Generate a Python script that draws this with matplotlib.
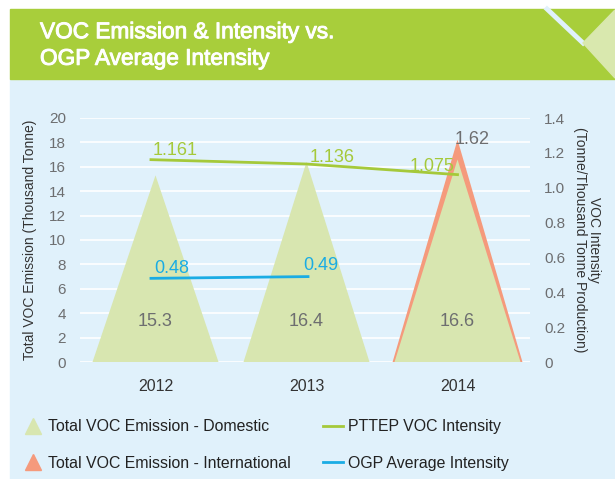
import matplotlib.pyplot as plt
import matplotlib.patheffects as pe
from matplotlib.patches import Rectangle, Polygon
from matplotlib.lines import Line2D

plt.rcParams["font.family"] = ["Liberation Sans", "DejaVu Sans"]

years = ["2012", "2013", "2014"]
domestic = [15.3, 16.4, 16.6]
international = [0, 0, 1.62]
pttep_intensity = [1.161, 1.136, 1.075]
ogp_intensity = [0.48, 0.49]

C_HEAD = "#A8CE3B"
C_BG = "#E0F1FB"
C_DOM = "#D8E6B0"
C_INT = "#F59A7C"
C_PTT = "#A5C93A"
C_OGP = "#1AACE4"
C_TXT = "#6D6E70"

fig = plt.figure(figsize=(6.15, 4.79), dpi=100)
W, H = 615, 479

def px(x, y):
    return x / W, 1 - y / H

# Hintergrund + Kopfzeile
fig.patches.append(Rectangle(px(10, 479), 605 / W, 400 / H, transform=fig.transFigure,
                             color=C_BG, zorder=-3))
fig.patches.append(Rectangle(px(10, 79), 605 / W, 70 / H, transform=fig.transFigure,
                             color=C_HEAD, zorder=-3))
fig.patches.append(Polygon([px(583, 43), px(615, 10), px(615, 78)], closed=True,
                           transform=fig.transFigure, color="#D9E8AE", zorder=-2))
fig.lines.append(Line2D([547 / W, 583 / W], [1 - 9 / H, 1 - 43 / H], transform=fig.transFigure,
                        color=C_BG, lw=3.5, zorder=-2))
fig.text(40 / W, 1 - 45 / H, "VOC Emission & Intensity vs.\nOGP Average Intensity",
         color="white", fontsize=16.3, va="center", ha="left", linespacing=1.2,
         path_effects=[pe.withStroke(linewidth=0.7, foreground="white")])

ax = fig.add_axes([80 / W, 1 - 362 / H, 450 / W, 244 / H])
ax.set_facecolor("none")
ax.set_xlim(-0.5, 2.48)
ax.set_ylim(0, 20)
ax.set_yticks(range(0, 21, 2))
ax.yaxis.grid(True, color="white", lw=1.2)
ax.set_axisbelow(True)
for s in ax.spines.values():
    s.set_visible(False)
ax.tick_params(length=0)
ax.tick_params(axis="y", labelsize=11, labelcolor=C_TXT, pad=10)
ax.set_xticks(range(len(years)))
ax.set_xticklabels(years, fontsize=11.5, color="#333333")
ax.tick_params(axis="x", pad=12)
ax.set_ylabel("Total VOC Emission (Thousand Tonne)", fontsize=10, color="#333333", labelpad=9)

hw = 0.43
for i in range(len(years)):
    tot = domestic[i] + international[i]
    if international[i] > 0:
        ax.fill([i - hw, i, i + hw], [0, tot, 0], color=C_INT, lw=0, zorder=2)
    ax.fill([i - hw * 0.97, i, i + hw * 0.97], [0, domestic[i], 0], color=C_DOM, lw=0, zorder=3)
    ax.text(i, 3.3, f"{domestic[i]}", ha="center", va="center", fontsize=13, color=C_TXT, zorder=5)
ax.text(1.98, tot, f"{international[2]}", ha="left", va="center", fontsize=13, color=C_TXT, zorder=5)

ax2 = ax.twinx()
ax2.set_ylim(0, 1.4)
ax2.set_yticks([0, 0.2, 0.4, 0.6, 0.8, 1.0, 1.2, 1.4])
ax2.set_yticklabels(["0", "0.2", "0.4", "0.6", "0.8", "1.0", "1.2", "1.4"])
for s in ax2.spines.values():
    s.set_visible(False)
ax2.tick_params(length=0, labelsize=11, labelcolor=C_TXT, pad=10)
ax2.set_ylabel("VOC Intensity\n(Tonne/Thousand Tonne Production)", fontsize=10, color="#333333",
               rotation=270, labelpad=26, linespacing=1.0)

xs = [-0.03, 1, 2]
ax2.plot(xs, pttep_intensity, color=C_PTT, lw=2, zorder=4)
ax2.plot([-0.03, 1.01], ogp_intensity, color=C_OGP, lw=2, zorder=4)

ax2.text(-0.02, pttep_intensity[0] + 0.005, "1.161", color=C_PTT, fontsize=13, ha="left", va="bottom")
ax2.text(1.02, pttep_intensity[1] - 0.01, "1.136", color=C_PTT, fontsize=13, ha="left", va="bottom")
ax2.text(1.98, pttep_intensity[2], "1.075", color=C_PTT, fontsize=13, ha="right", va="bottom")
ax2.text(-0.01, ogp_intensity[0] + 0.005, "0.48", color=C_OGP, fontsize=13, ha="left", va="bottom")
ax2.text(0.98, ogp_intensity[1] + 0.015, "0.49", color=C_OGP, fontsize=13, ha="left", va="bottom")

handles = [
    Line2D([], [], marker="^", color=C_DOM, lw=0, markersize=11.5),
    Line2D([], [], marker="^", color=C_INT, lw=0, markersize=11.5),
    Line2D([], [], color=C_PTT, lw=2),
    Line2D([], [], color=C_OGP, lw=2),
]
labels = ["Total VOC Emission - Domestic", "Total VOC Emission - International",
          "PTTEP VOC Intensity", "OGP Average Intensity"]
fig.legend(handles, labels, ncol=2, loc="center left", bbox_to_anchor=(8 / W, 1 - 445 / H),
           frameon=False, fontsize=11.4, handlelength=1.3, handletextpad=0.3,
           columnspacing=2.05, labelspacing=1.35, labelcolor="#222222")

fig.savefig("out.png", dpi=100)
